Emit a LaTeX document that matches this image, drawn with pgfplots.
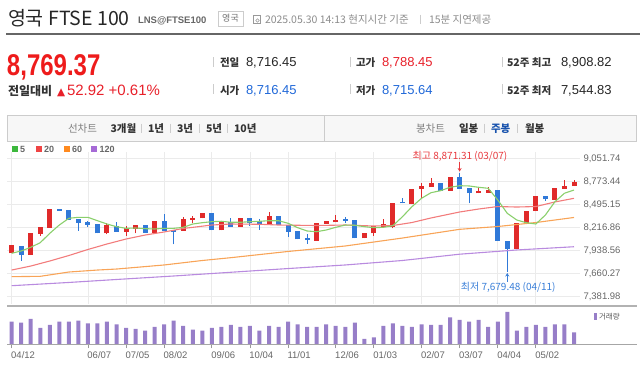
\documentclass[border=0pt]{standalone}
\usepackage{fontspec}
\usepackage{pgfplots}
\pgfplotsset{compat=1.18}
\usepackage{pgfplotstable}
\usetikzlibrary{arrows.meta}
\setmainfont{Liberation Sans}
\newfontfamily\kr{Noto Sans CJK KR}
\newfontfamily\dv{DejaVu Sans}
\newcommand{\fs}[1]{\fontsize{#1bp}{#1bp}\selectfont}
\definecolor{upred}{HTML}{E02A2A}
\definecolor{dnblue}{HTML}{3079D8}
\definecolor{maG}{HTML}{8ACF6C}
\definecolor{maR}{HTML}{F27C7C}
\definecolor{maO}{HTML}{F8A458}
\definecolor{maP}{HTML}{B98BDF}
\definecolor{lgG}{HTML}{3DB83D}
\definecolor{lgR}{HTML}{EF4444}
\definecolor{lgO}{HTML}{FF8A1F}
\definecolor{lgP}{HTML}{A66AD6}
\definecolor{volc}{HTML}{977EC8}
\definecolor{gridc}{HTML}{EBEBEB}
\definecolor{labc}{HTML}{666666}
\definecolor{bigred}{HTML}{EE1B1B}
\definecolor{numred}{HTML}{E8202A}
\definecolor{numblue}{HTML}{2068D8}
\definecolor{annred}{HTML}{E8383D}
\definecolor{annblue}{HTML}{3A7FD8}
\definecolor{sepc}{HTML}{CCCCCC}

\pgfplotstableread{
i o h l c
0 7906 8006 7906 8006
2 7885 8147 7885 8147
3 8139 8219 8118 8219
4 8215 8437 8215 8437
10 8147 8268 8135 8244
12 8163 8235 8118 8211
13 8203 8251 8147 8251
15 8154 8292 8154 8292
18 8175 8347 8175 8316
19 8307 8359 8268 8335
20 8328 8388 8328 8388
22 8183 8280 8183 8280
24 8227 8328 8227 8328
27 8251 8400 8251 8359
32 8058 8268 8058 8268
33 8263 8292 8263 8292
34 8280 8368 8280 8311
37 8087 8154 8087 8154
38 8147 8235 8118 8235
39 8227 8316 8227 8259
40 8219 8516 8207 8516
42 8500 8678 8500 8678
43 8681 8750 8569 8718
44 8709 8810 8709 8750
46 8661 8822 8661 8822
49 8630 8702 8630 8657
50 8637 8702 8637 8666
53 7961 8275 7961 8275
54 8275 8416 8275 8416
55 8416 8597 8416 8597
57 8549 8690 8549 8690
58 8685 8790 8685 8718
59 8716.45 8788.45 8715.64 8769.37
}\upT

\pgfplotstableread{
i o h l c
1 7997 7997 7813 7885
5 8440 8440 8416 8416
6 8428 8428 8307 8307
7 8320 8320 8178 8271
8 8280 8295 8227 8251
9 8256 8256 8147 8147
11 8239 8287 8163 8163
14 8251 8251 8154 8154
16 8292 8376 8175 8175
17 8187 8187 8014 8163
21 8388 8388 8183 8183
23 8287 8328 8227 8227
25 8328 8328 8235 8275
26 8292 8320 8187 8244
28 8359 8359 8251 8251
29 8247 8247 8106 8166
30 8178 8178 8075 8075
31 8087 8135 8018 8066
35 8316 8347 8275 8295
36 8307 8307 8087 8087
41 8528 8569 8509 8509
45 8750 8750 8661 8661
47 8822 8871.31 8685 8685
48 8690 8690 8509 8630
51 8669 8669 8058 8058
52 8058 8058 7679.48 7961
56 8597 8597 8537 8557
}\dnT

\pgfplotstableread{
i v
0 68
1 65
2 76
3 49
4 58
5 68
6 68
7 71
8 63
9 63
10 68
11 60
12 49
13 46
14 41
15 52
16 60
17 71
18 55
19 44
20 41
21 49
22 52
23 58
24 52
25 55
26 41
27 55
28 52
29 68
30 60
31 52
32 52
33 60
34 55
35 52
36 65
37 16
38 21
39 55
40 63
41 55
42 52
43 60
44 58
45 58
46 81
47 73
48 68
49 73
50 52
51 68
52 97
53 41
54 52
55 58
56 52
57 60
58 60
59 36
}\volT

\tikzset{t/.style={anchor=base west, inner sep=0pt, outer sep=0pt}}
\pgfplotsset{candle/.style={draw=none, mark=none, forget plot,
  error bars/.cd, y dir=plus, y explicit, error mark=none}}

\begin{document}
\begin{tikzpicture}
\path[use as bounding box] (0,0) rectangle (640bp,-375bp);

% main candle axis
\begin{axis}[
  at={(7bp,-304bp)}, anchor=south west,
  scale only axis, width=573bp, height=152bp,
  xmin=-0.49, xmax=59.63, ymin=7294.2, ymax=9127.7,
  axis line style={draw=none},
  xtick={0,8,12,16,21,25,29,34,38,43,47,51,55},
  xticklabels={},
  ytick={7381.98,7660.27,7938.56,8216.86,8495.15,8773.44,9051.74},
  yticklabels={{7,381.98},{7,660.27},{7,938.56},{8,216.86},{8,495.15},{8,773.44},{9,051.74}},
  yticklabel pos=right,
  yticklabel style={font=\fs{9.5}, text=labc, anchor=west},
  major tick length=0pt,
  grid=major, grid style={draw=gridc, line width=0.8bp},
  clip=false,
]
% wicks
\addplot[candle, error bar style={draw=upred, line width=1bp}]
  table[x=i, y=l, y error plus expr=\thisrow{h}-\thisrow{l}] {\upT};
\addplot[candle, error bar style={draw=dnblue, line width=1bp}]
  table[x=i, y=l, y error plus expr=\thisrow{h}-\thisrow{l}] {\dnT};
% bodies
\addplot[candle, error bar style={draw=upred, line width=5bp, line cap=butt}]
  table[x=i, y=o, y error plus expr=\thisrow{c}-\thisrow{o}] {\upT};
\addplot[candle, error bar style={draw=dnblue, line width=5bp, line cap=butt}]
  table[x=i, y=c, y error plus expr=\thisrow{o}-\thisrow{c}] {\dnT};
% moving averages
\addplot[maP, line width=1.1bp, mark=none] coordinates {
(0,7515)(6,7554)(11,7590)(17,7632)(23,7677)(29,7722)(35,7765)(41,7819)(47,7895)(53,7946)(59,7985)};
\addplot[maO, line width=1.1bp, mark=none] coordinates {
(0,7624)(3,7628)(6,7680)(9,7704)(11,7716)(16,7765)(20,7819)(23,7853)(29,7928)(35,7994)(41,8090)(47,8195)(51,8229)(55,8277)(59,8338)};
\addplot[maR, line width=1.1bp, mark=none] coordinates {
(0,7704)(2,7752)(4,7813)(6,7879)(8,7952)(10,8018)(12,8078)(14,8126)(16,8163)(18,8205)(19,8219)(21,8247)(23,8259)(26,8256)(28,8247)(32,8241)(35,8247)(38,8235)(40,8241)(42,8277)(44,8332)(47,8404)(49,8440)(51,8470)(53,8464)(55,8470)(57,8525)(59,8569)};
\addplot[maG, line width=1.1bp, mark=none] coordinates {
(0,7906)(1,7934)(2,7978)(3,8034)(4,8147)(5,8247)(6,8328)(7,8340)(8,8340)(9,8299)(10,8259)(11,8227)(12,8207)(13,8211)(14,8203)(15,8199)(16,8207)(17,8207)(18,8219)(19,8259)(20,8275)(21,8287)(22,8292)(23,8280)(24,8280)(25,8287)(26,8292)(27,8299)(28,8299)(29,8268)(30,8215)(31,8175)(32,8166)(33,8187)(34,8219)(35,8247)(36,8244)(37,8227)(38,8215)(39,8219)(40,8239)(41,8347)(42,8468)(43,8569)(44,8637)(45,8661)(46,8702)(47,8721)(48,8718)(49,8702)(50,8690)(51,8549)(52,8388)(53,8307)(54,8275)(55,8259)(56,8368)(57,8528)(58,8630)(59,8669)};
% annotations
\node[text=annred, font=\kr\fs{10}, inner sep=0pt] at (axis cs:47.04,9079.5) {최고 8,871.31 (03/07)};
\draw[annred, line width=0.9bp, -{Stealth[length=3.5bp,width=4bp]}] (axis cs:47,9007) -- (axis cs:47,8892);
\node[text=annblue, font=\kr\fs{10}, inner sep=0pt] at (axis cs:52.1,7490.7) {최저 7,679.48 (04/11)};
\draw[annblue, line width=0.9bp, -{Stealth[length=3.5bp,width=4bp]}] (axis cs:52,7565) -- (axis cs:52,7668);
\end{axis}

% volume axis
\begin{axis}[
  at={(7bp,-344.3bp)}, anchor=south west,
  scale only axis, width=573bp, height=37.3bp,
  xmin=-0.49, xmax=59.63, ymin=0, ymax=112,
  axis line style={draw=none},
  ytick=\empty,
  xtick={0,8,12,16,21,25,29,34,38,43,47,51,55},
  xticklabels={04/12,06/07,07/05,08/02,09/06,10/04,11/01,12/06,01/03,02/07,03/07,04/04,05/02},
  xtick pos=left, tick align=outside, major tick length=4bp,
  tick style={draw=black!40, line width=0.8bp},
  xticklabel style={font=\fs{9.5}, text=labc, anchor=north west, xshift=-4bp},
  clip=false,
]
\addplot[ybar, bar width=4bp, fill=volc, draw=none] table[x=i, y=v] {\volT};
\end{axis}

\begin{scope}[x=1bp, y=-1bp]
% separators of chart
\draw[black!30, line width=2bp] (7,306) -- (637,306);
\draw[black!35, line width=1.2bp] (7,344.3) -- (637,344.3);
% volume legend
\fill[volc] (594.3,313) rectangle (596.8,319.5);
\node[t, text=black!65] at (599,319.5) {\kr\fs{7.5}거래량};

% header
\node[t, text=black!85] at (8,25.5) {\kr\fs{19.5}영국 FTSE 100};
\node[t, text=black!60] at (138,23.5) {\fs{9.5}\bfseries LNS@FTSE100};
\draw[sepc, line width=0.8bp] (218,11) rectangle (243,26.5);
\node[anchor=center, inner sep=0pt, text=black!55] at (230.5,18.5) {\kr\fs{9}영국};
\draw[black!40, line width=0.8bp] (253.5,15.5) rectangle (260.5,23.5);
\draw[black!40, line width=0.6bp] (257.5,20.5) circle (1.8);
\node[t, text=black!45] at (265,23.5) {\kr\fs{10.5}2025.05.30 14:13 현지시간 기준};
\draw[sepc, line width=0.8bp] (420,14.5) -- (420,24);
\node[t, text=black!45] at (429,23.5) {\kr\fs{10.5}15분 지연제공};
\draw[black!60, line width=2bp] (6,33.5) -- (640,33.5);

\node[t, text=bigred] at (7,75) {\scalebox{0.8}[1]{\fs{30}\bfseries 8,769.37}};
\node[t, text=black!80] at (8,95) {\kr\fs{12}\bfseries 전일대비};
\node[t, text=numred] at (57,95) {\dv\fs{10.5}▲};
\node[t, text=numred] at (67,95) {\fs{15}52.92 +0.61\%};

% columns
\foreach \sx in {213,350,502} {
  \draw[sepc, line width=0.8bp] (\sx,57) -- (\sx,67);
  \draw[sepc, line width=0.8bp] (\sx,84) -- (\sx,94);
}
\node[t, text=black!80] at (220,66) {\kr\fs{10.5}\bfseries 전일};
\node[t, text=black!85] at (246,66) {\fs{13}8,716.45};
\node[t, text=black!80] at (220,94) {\kr\fs{10.5}\bfseries 시가};
\node[t, text=numblue] at (246,94) {\fs{13}8,716.45};
\node[t, text=black!80] at (356,66) {\kr\fs{10.5}\bfseries 고가};
\node[t, text=numred] at (382,66) {\fs{13}8,788.45};
\node[t, text=black!80] at (356,94) {\kr\fs{10.5}\bfseries 저가};
\node[t, text=numblue] at (382,94) {\fs{13}8,715.64};
\node[t, text=black!80] at (507,66) {\kr\fs{10.5}\bfseries 52주 최고};
\node[t, text=black!85] at (561,66) {\fs{13}8,908.82};
\node[t, text=black!80] at (507,94) {\kr\fs{10.5}\bfseries 52주 최저};
\node[t, text=black!85] at (561,94) {\fs{13}7,544.83};

% button bar
\draw[fill=black!3, draw=black!20, line width=0.8bp] (7,115.5) rectangle (636,141.5);
\draw[black!20, line width=0.8bp] (324,115.5) -- (324,141.5);
\node[t, text=black!50] at (68,132) {\kr\fs{10.5}선차트};
\node[t, text=black!80] at (110.5,132) {\kr\fs{10.5}\bfseries 3개월};
\node[t, text=black!80] at (148,132) {\kr\fs{10.5}\bfseries 1년};
\node[t, text=black!80] at (177,132) {\kr\fs{10.5}\bfseries 3년};
\node[t, text=black!80] at (206,132) {\kr\fs{10.5}\bfseries 5년};
\node[t, text=black!80] at (234,132) {\kr\fs{10.5}\bfseries 10년};
\foreach \sx in {141,170,199,227.5,484,517} {
  \draw[sepc, line width=0.8bp] (\sx,123.5) -- (\sx,133);
}
\node[t, text=black!50] at (416,132) {\kr\fs{10.5}봉차트};
\node[t, text=black!80] at (459,132) {\kr\fs{10.5}\bfseries 일봉};
\node[t, text=numblue!80!black] at (491,132) {\kr\fs{10.5}\bfseries 주봉};
\node[t, text=black!80] at (525,132) {\kr\fs{10.5}\bfseries 월봉};

% MA legend
\fill[lgG] (12,146) rectangle (18,152);
\node[t, text=black!60] at (20,152.5) {\fs{9}\bfseries 5};
\fill[lgR] (36,146) rectangle (42,152);
\node[t, text=black!60] at (44,152.5) {\fs{9}\bfseries 20};
\fill[lgO] (63.5,146) rectangle (69.5,152);
\node[t, text=black!60] at (72,152.5) {\fs{9}\bfseries 60};
\fill[lgP] (91,146) rectangle (97,152);
\node[t, text=black!60] at (99.5,152.5) {\fs{9}\bfseries 120};
\end{scope}
\end{tikzpicture}
\end{document}
